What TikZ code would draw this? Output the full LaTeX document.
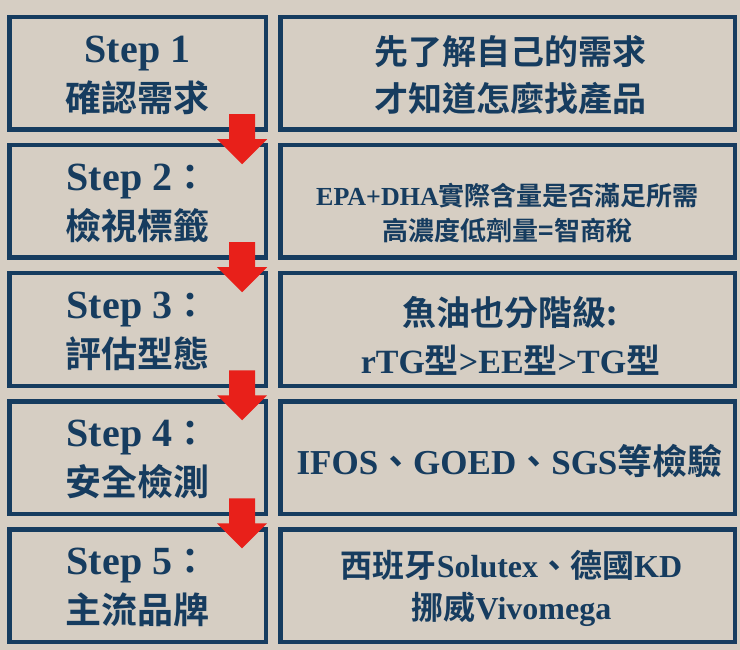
\documentclass[tikz,border=0pt]{standalone}
\usepackage{fontspec}
\setmainfont{Liberation Serif}
\newfontfamily\cjk{Noto Sans CJK TC}[BoldFont={Noto Sans CJK TC Bold}]
\usetikzlibrary{calc}
\definecolor{bg}{RGB}{214,206,195}
\definecolor{navy}{RGB}{22,60,95}
\definecolor{arrowred}{RGB}{232,32,26}
\newcommand{\zh}[1]{{\cjk #1}}
\newcommand{\fs}[1]{\fontsize{#1}{49}\selectfont}
\begin{document}
\begin{tikzpicture}[x=1pt,y=-1pt,
  lbox/.style={draw=navy, line width=4.5pt, minimum width=256.5pt, minimum height=112.5pt, inner sep=0pt},
  rbox/.style={draw=navy, line width=4.5pt, minimum width=454.5pt, minimum height=112.5pt, inner sep=0pt},
  txt/.style={text=navy, align=center, inner sep=0pt},
  ltxt/.style={txt, font=\bfseries\fontsize{40}{49}\selectfont},
  downarrow/.style={fill=arrowred}]
\fill[bg] (0,0) rectangle (740,650);
\useasboundingbox (0,0) rectangle (740,650);
% boxes
\node[lbox] (L1) at (137.5,73.5) {};
\node[lbox] (L2) at (137.5,201.5) {};
\node[lbox] (L3) at (137.5,329.5) {};
\node[lbox] (L4) at (137.5,457.5) {};
\node[lbox] (L5) at (137.5,585.5) {};
\node[rbox] (R1) at (507.5,73.5) {};
\node[rbox] (R2) at (507.5,201.5) {};
\node[rbox] (R3) at (507.5,329.5) {};
\node[rbox] (R4) at (507.5,457.5) {};
\node[rbox] (R5) at (507.5,585.5) {};
% left texts
\node[ltxt] (L1t) at ($(L1.center)+(0,2)$) {Step 1\\\zh{\fs{36}確認需求}};
\node[ltxt] (L2t) at ($(L2.center)+(0,2)$) {Step 2\zh{\fs{36}：}\\\zh{\fs{36}檢視標籤}};
\node[ltxt] (L3t) at ($(L3.center)+(0,2)$) {Step 3\zh{\fs{36}：}\\\zh{\fs{36}評估型態}};
\node[ltxt] (L4t) at ($(L4.center)+(0,2)$) {Step 4\zh{\fs{36}：}\\\zh{\fs{36}安全檢測}};
\node[ltxt] (L5t) at ($(L5.center)+(0,2)$) {Step 5\zh{\fs{36}：}\\\zh{\fs{36}主流品牌}};
% right texts
\node[txt, font=\bfseries\fontsize{34}{47}\selectfont] (R1t) at ($(R1.center)+(3,2)$) {\zh{先了解自己的需求}\\\zh{才知道怎麼找產品}};
\node[txt, font=\bfseries\fontsize{26}{35}\selectfont] (R2t) at ($(R2.center)+(0,12)$) {EPA+DHA\zh{實際含量是否滿足所需}\\\zh{高濃度低劑量=智商稅}};
\node[txt, font=\bfseries\fontsize{34}{48}\selectfont] (R3t) at ($(R3.center)+(3,6)$) {\zh{魚油也分階級:}\\rTG\zh{型}>EE\zh{型}>TG\zh{型}};
\node[txt, font=\bfseries\fontsize{35}{40}\selectfont] (R4t) at ($(R4.center)+(2,4)$) {IFOS\zh{、}GOED\zh{、}SGS\zh{等檢驗}};
\node[txt, font=\bfseries\fontsize{32}{42}\selectfont] (R5t) at ($(R5.center)+(4,3)$) {\zh{西班牙}Solutex\zh{、德國}KD\\\zh{挪威}Vivomega};
% arrows
\foreach \i in {1,2,3,4}{
  \coordinate (A\i) at ($(L\i.south)+(104.5,2.25)$);
  \fill[downarrow] ($(A\i)+(-13,-20)$) -- ($(A\i)+(13,-20)$) -- ($(A\i)+(13,5)$) -- ($(A\i)+(25,5)$) -- ($(A\i)+(0,30)$) -- ($(A\i)+(-25,5)$) -- ($(A\i)+(-13,5)$) -- cycle;
}
\end{tikzpicture}
\end{document}
